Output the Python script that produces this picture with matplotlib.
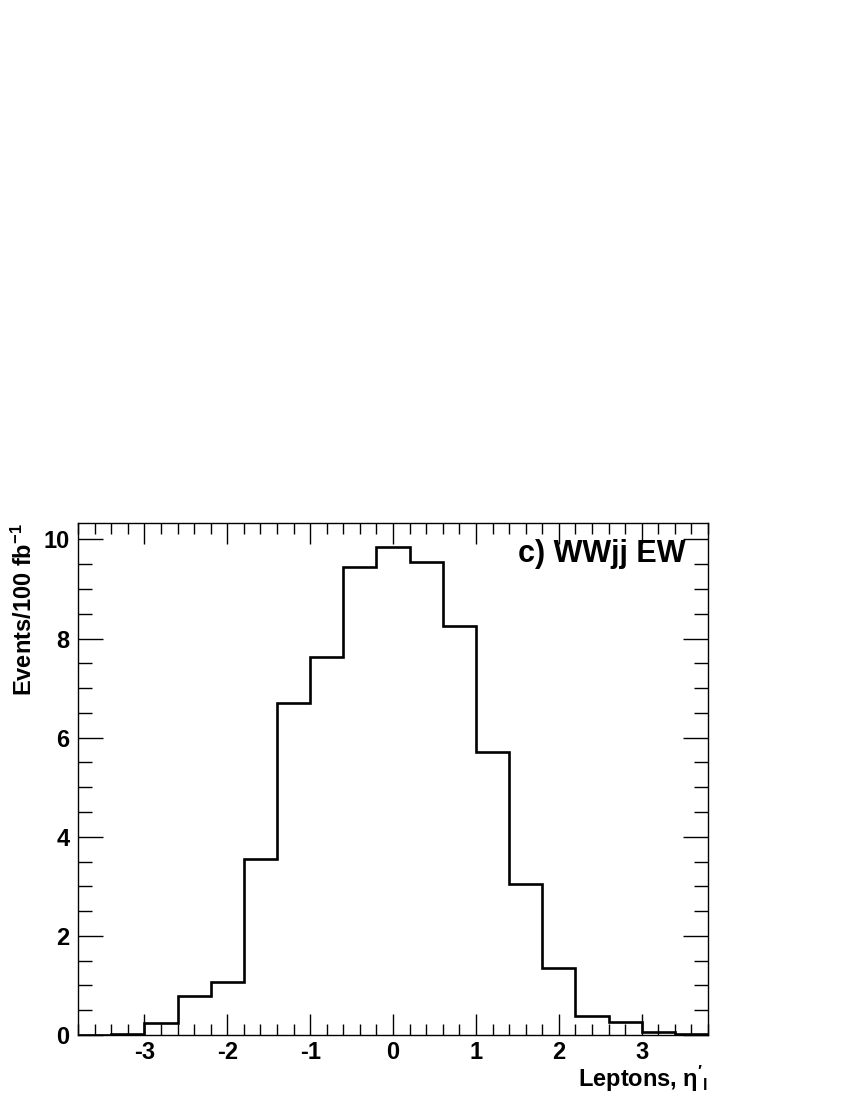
import matplotlib.pyplot as plt
import numpy as np
from matplotlib.ticker import MultipleLocator

plt.rcParams['font.family'] = ['Liberation Sans', 'DejaVu Sans']
plt.rcParams['font.weight'] = 'bold'
plt.rcParams['axes.unicode_minus'] = False
plt.rcParams['mathtext.fontset'] = 'custom'
plt.rcParams['mathtext.rm'] = 'Liberation Sans'
plt.rcParams['mathtext.bf'] = 'Liberation Sans:bold'
plt.rcParams['mathtext.it'] = 'Liberation Sans:italic'

# histogram of lepton eta' (19 bins of 0.4 from -3.8 to 3.8)
bin_edges = np.linspace(-3.8, 3.8, 20)
events = [0.0, 0.03, 0.24, 0.79, 1.07, 3.56, 6.69, 7.62, 9.45, 9.84,
          9.54, 8.26, 5.72, 3.05, 1.35, 0.38, 0.26, 0.06, 0.02]

fig = plt.figure(figsize=(8.5, 11), dpi=100)
ax = fig.add_axes([0.0918, 0.0591, 0.7412, 0.4654])

ax.stairs(events, bin_edges, color='black', linewidth=1.9, baseline=None)

ax.set_xlim(-3.8, 3.8)
ax.set_ylim(0, 10.33)

ax.xaxis.set_major_locator(MultipleLocator(1))
ax.xaxis.set_minor_locator(MultipleLocator(0.2))
ax.yaxis.set_major_locator(MultipleLocator(2))
ax.yaxis.set_minor_locator(MultipleLocator(0.5))
ax.tick_params(which='both', direction='in', top=True, right=True, width=1.0,
               labelsize=17)
ax.tick_params(axis='x', which='major', length=15, pad=4)
ax.tick_params(axis='x', which='minor', length=8)
ax.tick_params(axis='y', which='major', length=18, pad=6)
ax.tick_params(axis='y', which='minor', length=10)
for lab in ax.get_xticklabels() + ax.get_yticklabels():
    lab.set_fontweight('bold')
for sp in ax.spines.values():
    sp.set_linewidth(1.0)

ax.set_ylabel(r'Events/100 fb$^{\mathbf{-1}}$', fontsize=17, fontweight='bold',
              loc='top')
ax.yaxis.set_label_coords(-0.066, 1.0)
ax.set_xlabel(r"Leptons, $\mathrm{\eta'_l}$", fontsize=17, fontweight='bold',
              loc='right')
ax.xaxis.set_label_coords(1.0, -0.056)

ax.text(0.965, 0.94, 'c) WWjj EW', transform=ax.transAxes, fontsize=22,
        fontweight='bold', ha='right', va='center')

fig.savefig('out.png', dpi=100)
